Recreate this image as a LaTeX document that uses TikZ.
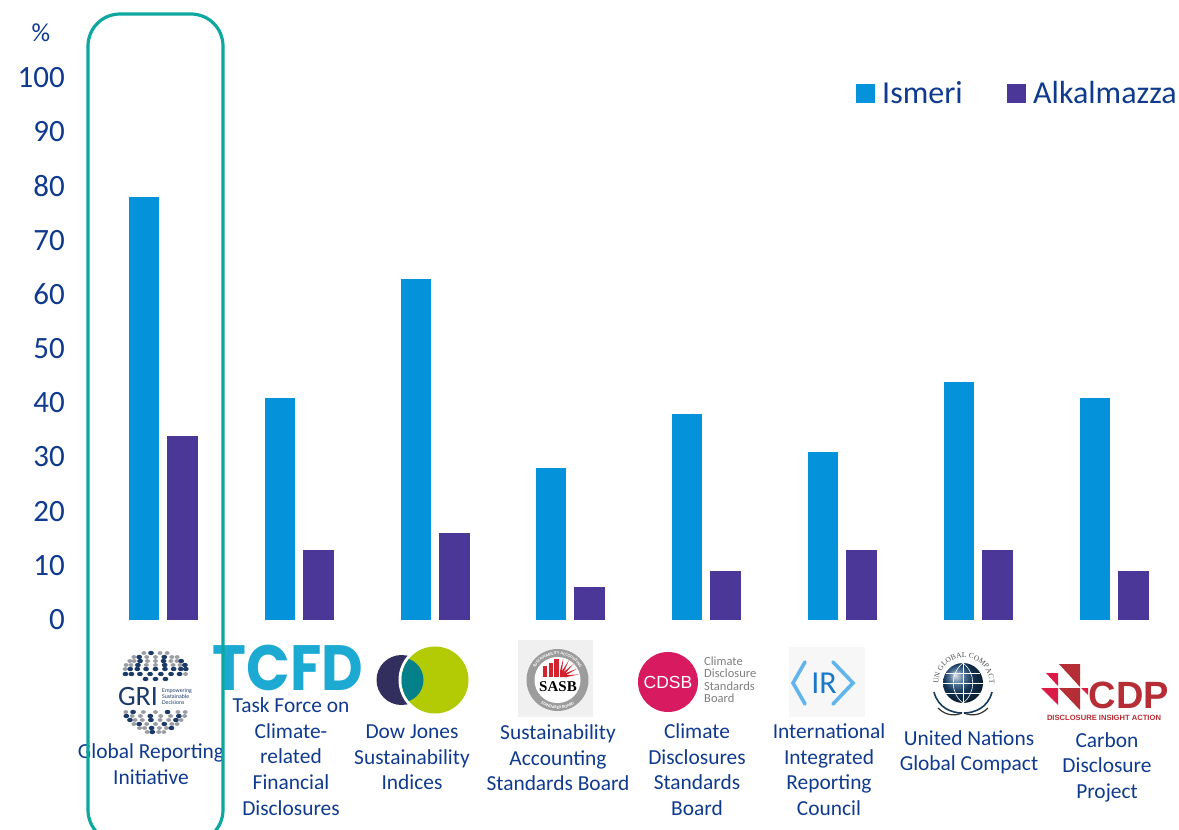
\documentclass[tikz,border=0pt]{standalone}
\usepackage{fontspec}
\setmainfont{Carlito}
\newfontfamily\logofont{Poppins}
\newfontfamily\heros{Liberation Sans}
\newfontfamily\serifl{Liberation Serif}
\usetikzlibrary{decorations.text,calc}
\definecolor{navy}{HTML}{0F3A8E}
\definecolor{ism}{HTML}{0492DB}
\definecolor{alk}{HTML}{4B3797}
\definecolor{teal1}{HTML}{0CA8A0}
\definecolor{tcfd}{HTML}{1CAAD3}
\definecolor{griblue}{HTML}{1B3A68}
\definecolor{grigrey}{HTML}{9A9DA3}
\definecolor{djdark}{HTML}{322F5F}
\definecolor{djgreen}{HTML}{B2CB05}
\definecolor{djteal}{HTML}{03808A}
\definecolor{sasbgrey}{HTML}{9C9C9C}
\definecolor{sasbred}{HTML}{D2232F}
\definecolor{cdsb}{HTML}{D81B60}
\definecolor{lg}{HTML}{7F7F7F}
\definecolor{irl}{HTML}{62B5EA}
\definecolor{ird}{HTML}{1B78C6}
\definecolor{un}{HTML}{1B4A78}
\definecolor{cdpd}{HTML}{B52D35}
\definecolor{cdpr}{HTML}{DC1A47}
\tikzset{
  axl/.style={text=navy,font=\fontsize{31}{31}\selectfont,anchor=east,inner sep=0pt},
  lab/.style={text=navy,font=\fontsize{21.4}{25.7}\selectfont,align=center,anchor=north,inner sep=0pt},
  leg/.style={text=navy,font=\fontsize{32}{32}\selectfont,anchor=west,inner sep=0pt},
  barI/.style={fill=ism,draw=none},
  barA/.style={fill=alk,draw=none},
  tiny/.style={text=lg,inner sep=0pt,align=left,anchor=north west}
}
\newcommand{\pairbar}[3]{%
  \path[barI] (#1,620) rectangle ({#1+30.2},{620-#2*5.42});
  \path[barA] ({#1+38.3},620) rectangle ({#1+69},{620-#3*5.42});
}
\begin{document}
\begin{tikzpicture}[x=1pt,y=-1pt]
\useasboundingbox (0,0) rectangle (1179,830);
\clip (0,0) rectangle (1179,830);
% axis
\node[text=navy,font=\fontsize{26}{26}\selectfont,inner sep=0pt] (pct) at (41,33) {\%};
\foreach \v in {0,10,...,100}{ \node[axl] (ax\v) at (65,{619.5-\v*5.42}) {\v}; }
% bars
\pairbar{129}{78}{34}
\pairbar{265}{41}{13}
\pairbar{401}{63}{16}
\pairbar{536}{28}{6}
\pairbar{672}{38}{9}
\pairbar{808}{31}{13}
\pairbar{944}{44}{13}
\pairbar{1080}{41}{9}
% legend
\path[barI] (856,84) rectangle (875,103);
\node[leg] (li) at (882,93) {Ismeri};
\path[barA] (1007,84) rectangle (1026,103);
\node[leg] (la) at (1033,93) {Alkalmazza};
% GRI logo
\foreach \r/\n/\hw in {-39/4/14,-35/7/24,-31/9/28,-27/9/32,-23/9/33,-18/8/33,-13/3/13,20/7/33,24/8/32,28/8/28,32/7/24,36/6/18,40/4/10}{
  \foreach \i in {1,...,\n}{
    \pgfmathsetmacro{\t}{-1+2*(\i-0.5)/\n}
    \pgfmathsetmacro{\xx}{155.5+\hw*sin(\t*75)}
    \pgfmathtruncatemacro{\dk}{(\r==-13 || ((\r==-18 || \r==-23) && abs(\t)<0.8) || mod(\i+\n,3)==0) ? 1 : 0}
    \ifnum\dk=1\fill[griblue] (\xx,692+\r) ellipse (2.9 and 2.2);\else\fill[grigrey] (\xx,692+\r) ellipse (2.5 and 1.9);\fi
  }
}
\node[text=griblue,font=\fontsize{28}{28}\selectfont,inner sep=0pt] (grit) at (138,697) {GRI};
\node[text=griblue,font=\fontsize{5.8}{6}\selectfont,align=left,inner sep=0pt] (grisub) at (177,697) {Empowering\\Sustainable\\Decisions};
% TCFD
\node[text=tcfd,font=\logofont\bfseries\fontsize{64}{64}\selectfont,inner sep=0pt,xscale=0.895,transform shape] (tc) at (288,668) {TCFD};
% DJSI
\fill[djdark] (401.5,680) circle (25);
\fill[white] (435,680) circle (36.5);
\fill[djgreen] (435,680) circle (33.5);
\begin{scope}
\clip (401,680) circle (22.5);
\fill[djteal] (435,680) circle (33.5);
\end{scope}
% SASB
\fill[black!6] (518,640) rectangle (593,717);
\fill[sasbgrey] (557.5,680) circle (31);
\fill[white] (557.5,680) circle (23);
\path[postaction={decorate,decoration={text along path,text align=center,text={|\bfseries\fontsize{4.3}{5}\selectfont\color{white}|SUSTAINABILITY ACCOUNTING}}}] (532,680) arc[start angle=180,end angle=360,radius=25.5];
\path[postaction={decorate,decoration={text along path,text align=center,text={|\bfseries\fontsize{4.3}{5}\selectfont\color{white}|STANDARDS BOARD}}}] ($(557.5,680)+(150:29)$) arc[start angle=150,end angle=30,radius=29];
\foreach \a/\b/\c in {543/547/666,548.5/552.5/663,554/559/659}{\fill[sasbred] (\a,677) rectangle (\b,\c);}
\fill[sasbred] (560,677) -- ++(0:7) arc[start angle=0,end angle=-90,radius=7] -- cycle;
\foreach \ang in {-8,-26,-44,-62,-80}{\fill[sasbred] ($(560,677)+(\ang-10:6)$) -- ($(560,677)+(\ang+10:6)$) -- ($(560,677)+(\ang:19)$) -- cycle;}
\node[font=\serifl\bfseries\fontsize{15}{15}\selectfont,inner sep=0pt] (sasb) at (558,687) {SASB};
% CDSB
\fill[cdsb] (668,682) circle (30);
\node[text=white,font=\heros\fontsize{17.5}{17.5}\selectfont,inner sep=0pt] (cdsbt) at (668,682) {CDSB};
\node[tiny,font=\fontsize{12.5}{12.4}\selectfont] (cdsbs) at (704,656.5) {Climate\\Disclosure\\Standards\\Board};
% IR
\fill[black!3] (789,647) rectangle (865,717);
\draw[irl,line width=3.6,line cap=round] (805,662) -- (793,683) -- (805,704);
\draw[irl,line width=3.6,line cap=round] (833,662) -- (853,683) -- (833,704);
\node[text=ird,font=\fontsize{32}{32}\selectfont,inner sep=0pt] (irt) at (824,683) {IR};
% UNGC
\shade[ball color=un] (963,683) circle (20);
\begin{scope}
\clip (963,683) circle (20);
\draw[white,line width=.6] (943,683) -- (983,683) (946,673) -- (980,673) (946,693) -- (980,693) (963,663) -- (963,703);
\draw[white,line width=.6] (963,663) .. controls (950,673) and (950,693) .. (963,703);
\draw[white,line width=.6] (963,663) .. controls (976,673) and (976,693) .. (963,703);
\end{scope}
\path[postaction={decorate,decoration={text along path,text align=center,text={|\serifl\fontsize{7.5}{8}\selectfont\color{black!70}|UN GLOBAL COMPACT}}}] ($(964,683)+(170:25.5)$) arc[start angle=170,end angle=370,radius=25.5];
\draw[un!80!black,line width=1.6] (934,692) .. controls (938,708) and (952,713) .. (962,713);
\draw[un!80!black,line width=1.6] (992,692) .. controls (988,708) and (974,713) .. (964,713);
\draw[black!80,line width=1.2] (938,708) .. controls (946,716) and (955,716) .. (962,713);
\draw[black!80,line width=1.2] (988,708) .. controls (980,716) and (971,716) .. (964,713);
% CDP
\fill[cdpd] (1059,664) -- (1080,664) -- (1080,687) -- cycle;
\fill[cdpr] (1046,673) -- (1058,673) -- (1058,686) -- cycle;
\fill[cdpr] (1041,688) -- (1058,688) -- (1058,705) -- cycle;
\fill[cdpd] (1059,688) -- (1080,688) -- (1080,710) -- cycle;
\fill[cdpr] (1081,688) -- (1088,688) -- (1088,695) -- cycle;
\node[text=cdpd,font=\heros\bfseries\fontsize{38}{38}\selectfont,inner sep=0pt] (cdpt) at (1129,695) {CDP};
\node[text=cdpd,font=\heros\bfseries\fontsize{7.6}{8}\selectfont,inner sep=0pt] (cdps) at (1104,718) {DISCLOSURE INSIGHT ACTION};
% labels
\node[lab] (l1) at (151,743.5) {Global Reporting\\Initiative};
\node[lab] (l2) at (291,697.5) {Task Force on\\Climate-\\related\\Financial\\Disclosures};
\node[lab] (l3) at (412,724.5) {Dow Jones\\Sustainability\\Indices};
\node[lab] (l4) at (558,724.5) {Sustainability\\Accounting\\Standards Board};
\node[lab] (l5) at (697,723.5) {Climate\\Disclosures\\Standards\\Board};
\node[lab] (l6) at (829,723.5) {International\\Integrated\\Reporting\\Council};
\node[lab] (l7) at (969,730) {United Nations\\Global Compact};
\node[lab] (l8) at (1107,732) {Carbon\\Disclosure\\Project};
% highlight
\draw[teal1,line width=3.2,rounded corners=32] (88,14) rectangle (223,842);
\end{tikzpicture}
\end{document}
